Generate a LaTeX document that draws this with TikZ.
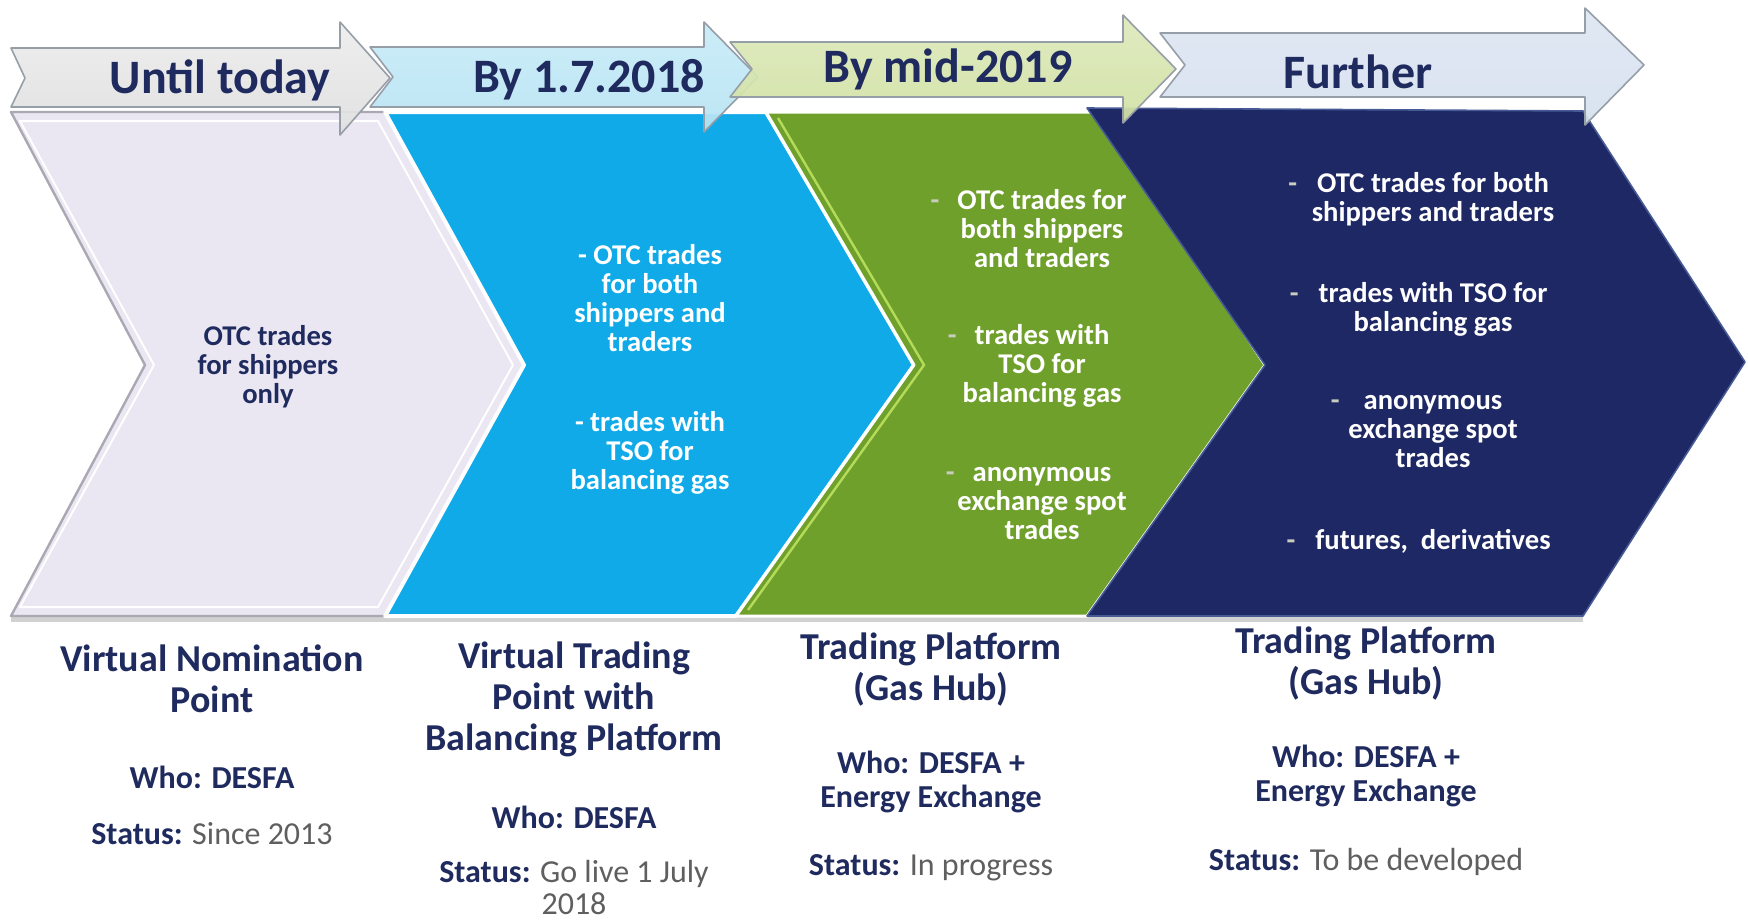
\documentclass[tikz,border=0pt]{standalone}
\usepackage{fontspec}
\setmainfont{Carlito}
\definecolor{txtnavy}{RGB}{31,42,94}
\definecolor{statgray}{RGB}{95,95,95}
\definecolor{lav}{RGB}{234,230,242}
\definecolor{lavedge}{RGB}{170,168,178}
\definecolor{chblue}{RGB}{16,170,232}
\definecolor{chgreen}{RGB}{112,160,44}
\definecolor{chgreenlight}{RGB}{180,220,90}
\definecolor{chnavy}{RGB}{30,40,100}
\definecolor{chnavylight}{RGB}{70,90,150}
\definecolor{arrowedge}{RGB}{150,158,168}
\definecolor{dashgray}{RGB}{200,205,190}
\begin{document}
\begin{tikzpicture}[x=0.5pt,y=-0.5pt,
  toptext/.style={text=txtnavy, font=\fontsize{24}{26}\selectfont\bfseries},
  chevtxt/.style={text=white, align=center, inner sep=0pt, font=\fontsize{14.3}{14.5}\selectfont\bfseries},
  titletxt/.style={text=txtnavy, align=center, inner sep=0pt, font=\fontsize{19}{20.5}\selectfont\bfseries},
  whotxt/.style={text=txtnavy, align=center, inner sep=0pt, font=\fontsize{16}{17}\selectfont\bfseries},
  tarrow/.style={draw=arrowedge, line width=0.8pt, line join=round, fill opacity=0.93},
]
\useasboundingbox (0,0) rectangle (1748,922);
\fill[white] (0,0) rectangle (1748,922);

% ---------- chevrons ----------
\fill[black!18] (11,616) rectangle (1583,622);
% lavender
\path[fill=lav, draw=lavedge, line width=1.2pt, line join=round]
  (11,112) -- (385,112) -- (524,365) -- (385,616) -- (11,616) -- (145,365) -- cycle;
\draw[white, line width=1pt, line join=round]
  (20,121) -- (378,121) -- (513,365) -- (378,607) -- (20,607) -- (154,365) -- cycle;
% blue
\path[fill=chblue, draw=white, line width=2pt, line join=round]
  (385,112) -- (766,112) -- (914,365) -- (736,616) -- (385,616) -- (524,365) -- cycle;
% green
\path[fill=chgreen, draw=white, line width=1.5pt, line join=round]
  (766,112) -- (1098,112) -- (1265,365) -- (1087,616) -- (736,616) -- (914,365) -- cycle;
\draw[chgreenlight, line width=1.2pt] (778,118) -- (924,365) -- (748,610);
% navy
\path[fill=chnavy, draw=chnavylight, line width=0.8pt, line join=round]
  (1087,108) -- (1583,111) -- (1745,362) -- (1583,616) -- (1087,616) -- (1265,365) -- cycle;

% ---------- top arrows ----------
\path[tarrow, top color=black!7, middle color=white, bottom color=black!12]
  (11,48) -- (340,48) -- (340,22) -- (390,78) -- (340,135) -- (340,107) -- (11,107) -- (25,78) -- cycle;
\path[tarrow, top color={rgb,255:red,200;green,236;blue,248}, middle color={rgb,255:red,236;green,249;blue,253}, bottom color={rgb,255:red,185;green,228;blue,244}]
  (370,47) -- (704,47) -- (704,22) -- (758,77) -- (704,132) -- (704,107) -- (370,107) -- (393,77) -- cycle;
\path[tarrow, top color={rgb,255:red,222;green,234;blue,188}, middle color={rgb,255:red,244;green,248;blue,228}, bottom color={rgb,255:red,210;green,226;blue,165}]
  (730,42) -- (1123,42) -- (1123,15) -- (1176,69) -- (1123,123) -- (1123,97) -- (730,97) -- (752,69) -- cycle;
\path[tarrow, top color={rgb,255:red,222;green,231;blue,243}, middle color={rgb,255:red,242;green,246;blue,251}, bottom color={rgb,255:red,215;green,226;blue,240}]
  (1160,33) -- (1585,33) -- (1585,8) -- (1644,65) -- (1585,125) -- (1585,97) -- (1160,97) -- (1185,65) -- cycle;

\node[toptext] (t1) at (220,80) {Until today};
\node[toptext] (t2) at (589,80) {By 1.7.2018};
\node[toptext] (t3) at (948,69) {By mid-2019};
\node[toptext] (t4) at (1358,72) {Further};

% ---------- chevron texts ----------
\node[chevtxt, text=txtnavy] (c1) at (268,367) {OTC trades\\for shippers\\only};

\node[chevtxt] (c2a) at (650,298) {- OTC trades\\for both\\shippers and\\traders};
\node[chevtxt] (c2b) at (650,453) {- trades with\\TSO for\\balancing gas};

\node[chevtxt] (c3a) at (1042,229) {\llap{\textcolor{dashgray}{-}\hspace{9pt}}OTC trades for\\both shippers\\and traders};
\node[chevtxt] (c3b) at (1042,366) {\llap{\textcolor{dashgray}{-}\hspace{9pt}}trades with\\TSO for\\balancing gas};
\node[chevtxt] (c3c) at (1042,504) {\llap{\textcolor{dashgray}{-}\hspace{9pt}}anonymous\\exchange spot\\trades};

\node[chevtxt] (c4a) at (1433,199) {\llap{\textcolor{dashgray}{-}\hspace{10pt}}OTC trades for both\\shippers and traders};
\node[chevtxt] (c4b) at (1433,309) {\llap{\textcolor{dashgray}{-}\hspace{10pt}}trades with TSO for\\balancing gas};
\node[chevtxt] (c4c) at (1433,432) {\llap{\textcolor{dashgray}{-}\hspace{12pt}}anonymous\\exchange spot\\trades};
\node[chevtxt] (c4d) at (1433,541) {\llap{\textcolor{dashgray}{-}\hspace{10pt}}futures,\ \ derivatives};

% ---------- bottom texts ----------
\node[titletxt] (b1) at (212,679) {Virtual Nomination\\Point};
\node[whotxt] (w1) at (212,777) {Who: DESFA};
\node[whotxt] (s1) at (212,834) {Status: {\mdseries\color{statgray}Since 2013}};

\node[titletxt] (b2) at (574,699) {Virtual Trading\\Point with\\Balancing Platform};
\node[whotxt] (w2) at (574,817) {Who: DESFA};
\node[whotxt, font=\fontsize{16}{16}\selectfont\bfseries] (s2) at (574,887) {Status: {\mdseries\color{statgray}Go live 1 July}\\{\mdseries\color{statgray}2018}};

\node[titletxt] (b3) at (931,670) {Trading Platform\\(Gas Hub)};
\node[whotxt] (w3) at (931,782) {Who: DESFA +\\Energy Exchange};
\node[whotxt] (s3) at (931,868) {Status: {\mdseries\color{statgray}In progress}};

\node[titletxt] (b4) at (1366,664) {Trading Platform\\(Gas Hub)};
\node[whotxt] (w4) at (1366,776) {Who: DESFA +\\Energy Exchange};
\node[whotxt] (s4) at (1366,862) {Status: {\mdseries\color{statgray}To be developed}};
\end{tikzpicture}
\end{document}
